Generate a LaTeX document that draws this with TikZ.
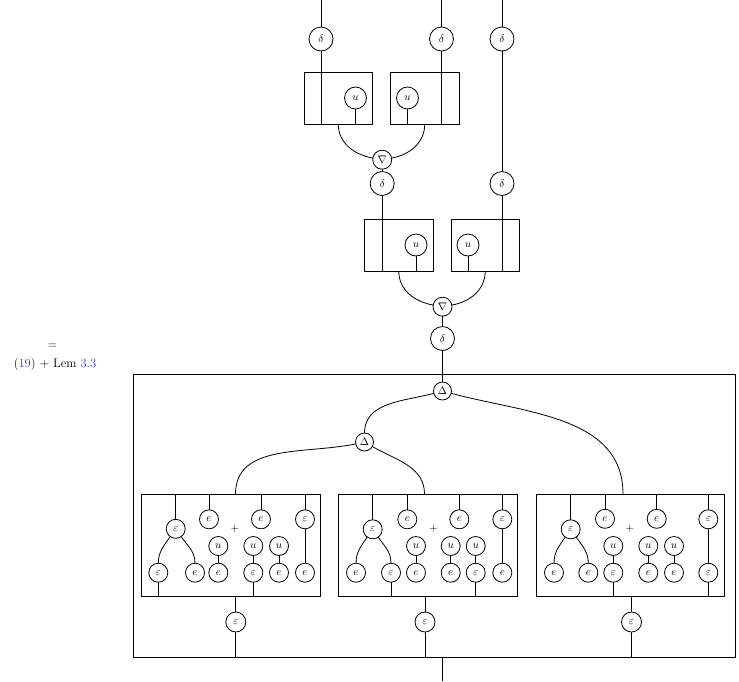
\documentclass[tikz,border=0pt]{standalone}
\usepackage{xcolor}
\definecolor{linkblue}{RGB}{51,51,230}
\begin{document}
\begin{tikzpicture}[x=1pt,y=-1pt, line width=0.8pt,
  lab/.style={font=\fontsize{10.5}{12}\selectfont},
  cn/.style={circle,draw,inner sep=0pt,outer sep=0pt,lab},
  bigc/.style={cn,minimum size=24pt},
  uc/.style={cn,minimum size=22pt},
  opc/.style={cn,minimum size=19pt},
  sm/.style={cn,minimum size=19pt},
  ebot/.style={cn,minimum size=20pt},
  sbox/.style={draw,rectangle,inner sep=0pt,outer sep=0pt,line width=0.9pt},
  topbox/.style={sbox,minimum width=68.5pt,minimum height=52pt},
  inbox/.style={sbox,minimum height=102pt},
  txt/.style={font=\fontsize{12.5}{15}\selectfont}
]
\useasboundingbox (0,0) rectangle (739,681);

% ---------- left label ----------
\node[txt] (eq) at (52.5,346) {$=$};
\node[txt] (ref) at (55,364) {(\textcolor{linkblue}{19}) + Lem \textcolor{linkblue}{3.3}};

% ---------- top section ----------
\coordinate (t1) at (321,0);
\coordinate (t2) at (441.5,0);
\coordinate (t3) at (502,0);
\node[bigc] (d1) at (321,39) {$\delta$};
\node[bigc] (d2) at (441.5,39) {$\delta$};
\node[bigc] (d3) at (502,39) {$\delta$};
\node[topbox] (box1) at (338.25,98) {};
\node[topbox] (box2) at (424.75,98) {};
\node[uc] (u1) at (355.5,98) {$u$};
\node[uc] (u2) at (407.5,98) {$u$};
\node[opc] (n1) at (382.2,159.7) {$\nabla$};
\node[bigc] (d4) at (382.2,183.5) {$\delta$};
\node[bigc] (d5) at (502,183.5) {$\delta$};
\draw (t1) -- (d1);
\draw (t2) -- (d2);
\draw (t3) -- (d3);
\draw (d1) -- (d1 |- box1.south);
\draw (d2) -- (d2 |- box2.south);
\draw (u1) -- (u1 |- box1.south);
\draw (u2) -- (u2 |- box2.south);
\draw (box1.south) to[out=-90,in=170] (n1);
\draw (box2.south) to[out=-90,in=10] (n1);
\draw (n1) -- (d4);
\draw (d3) -- (d5);

% ---------- middle section ----------
\node[topbox] (box3) at (398.75,245) {};
\node[topbox] (box4) at (485.25,245) {};
\node[uc] (u3) at (416,245) {$u$};
\node[uc] (u4) at (468,245) {$u$};
\node[opc] (n2) at (442.5,306.7) {$\nabla$};
\node[bigc] (d6) at (442.5,338.5) {$\delta$};
\draw (d4) -- (d4 |- box3.south);
\draw (d5) -- (d5 |- box4.south);
\draw (u3) -- (u3 |- box3.south);
\draw (u4) -- (u4 |- box4.south);
\draw (box3.south) to[out=-90,in=170] (n2);
\draw (box4.south) to[out=-90,in=10] (n2);
\draw (n2) -- (d6);

% ---------- big box ----------
\node[sbox,minimum width=602pt,minimum height=283pt] (bigbox) at (434,515.5) {};
\node[opc,minimum size=18pt] (D1) at (442.5,391) {$\Delta$};
\node[opc,minimum size=18pt] (D2) at (364.5,442) {$\Delta$};
\draw (d6) -- (D1);

\node[inbox,minimum width=179.5pt] (boxA) at (230.75,545) {};
\node[inbox,minimum width=178.5pt] (boxB) at (427.75,545) {};
\node[inbox,minimum width=188pt] (boxC) at (630.5,545) {};

\coordinate (tA) at (235.5,494);
\coordinate (tB) at (424.5,494);
\coordinate (tC) at (623,494);
\draw (D1) to[out=195,in=90] (D2);
\draw (D1) to[out=-15,in=90] (tC);
\draw (D2) to[out=192,in=90] (tA);
\draw (D2) to[out=-30,in=90] (tB);

% box A
\node[sm] (A1) at (175.7,528.8) {$\varepsilon$};
\node[sm] (A2) at (209,519.3) {$e$};
\node[lab] (Ap) at (235,528.3) {$+$};
\node[sm] (A3) at (261,519.3) {$e$};
\node[sm] (A4) at (305,519.3) {$\varepsilon$};
\node[sm] (A5) at (218.3,546) {$u$};
\node[sm] (A6) at (253.3,546) {$u$};
\node[sm] (A7) at (279,546) {$u$};
\node[sm] (A8) at (158.3,572.7) {$\varepsilon$};
\node[sm] (A9) at (195,572.7) {$e$};
\node[sm] (A10) at (218.3,572.7) {$e$};
\node[sm] (A11) at (253.3,572.7) {$\varepsilon$};
\node[sm] (A12) at (279,572.7) {$e$};
\node[sm] (A13) at (305,572.7) {$e$};
\foreach \n in {A1,A2,A3,A4} \draw (\n) -- (\n |- boxA.north);
\draw (A1) to[out=-125,in=90] (A8);
\draw (A1) to[out=-55,in=90] (A9);
\draw (A5) -- (A10);
\draw (A6) -- (A11);
\draw (A7) -- (A12);
\draw (A4) -- (A13);
\draw (A8) -- (A8 |- boxA.south);
\draw (A11) -- (A11 |- boxA.south);

% box B
\node[sm] (B1) at (372.7,529.3) {$\varepsilon$};
\node[sm] (B2) at (407.3,519.3) {$e$};
\node[lab] (Bp) at (433.3,528.3) {$+$};
\node[sm] (B3) at (459.3,519.3) {$e$};
\node[sm] (B4) at (502.3,519.3) {$\varepsilon$};
\node[sm] (B5) at (416,546) {$u$};
\node[sm] (B6) at (450.7,546) {$u$};
\node[sm] (B7) at (475.7,546) {$u$};
\node[sm] (B8) at (356,572.7) {$e$};
\node[sm] (B9) at (391,572.7) {$\varepsilon$};
\node[sm] (B10) at (416,572.7) {$e$};
\node[sm] (B11) at (450.7,572.7) {$e$};
\node[sm] (B12) at (475.7,572.7) {$\varepsilon$};
\node[sm] (B13) at (502.3,572.7) {$e$};
\foreach \n in {B1,B2,B3,B4} \draw (\n) -- (\n |- boxB.north);
\draw (B1) to[out=-125,in=90] (B8);
\draw (B1) to[out=-55,in=90] (B9);
\draw (B5) -- (B10);
\draw (B6) -- (B11);
\draw (B7) -- (B12);
\draw (B4) -- (B13);
\draw (B9) -- (B9 |- boxB.south);
\draw (B12) -- (B12 |- boxB.south);

% box C
\node[sm] (C1) at (570.7,529.3) {$\varepsilon$};
\node[sm] (C2) at (605,518.8) {$e$};
\node[lab] (Cp) at (630,528.3) {$+$};
\node[sm] (C3) at (656.7,518.8) {$e$};
\node[sm] (C4) at (708.3,519.3) {$\varepsilon$};
\node[sm] (C5) at (613.3,546) {$u$};
\node[sm] (C6) at (648.3,546) {$u$};
\node[sm] (C7) at (674,546) {$u$};
\node[sm] (C8) at (554,572.7) {$e$};
\node[sm] (C9) at (588.3,572.7) {$e$};
\node[sm] (C10) at (613.3,572.7) {$\varepsilon$};
\node[sm] (C11) at (648.3,572.7) {$e$};
\node[sm] (C12) at (674,572.7) {$e$};
\node[sm] (C13) at (708.3,572.7) {$\varepsilon$};
\foreach \n in {C1,C2,C3,C4} \draw (\n) -- (\n |- boxC.north);
\draw (C1) to[out=-125,in=90] (C8);
\draw (C1) to[out=-55,in=90] (C9);
\draw (C5) -- (C10);
\draw (C6) -- (C11);
\draw (C7) -- (C12);
\draw (C4) -- (C13);
\draw (C10) -- (C10 |- boxC.south);
\draw (C13) -- (C13 |- boxC.south);

% bottom epsilons
\node[ebot] (eA) at (235.8,622) {$\varepsilon$};
\node[ebot] (eB) at (425,622) {$\varepsilon$};
\node[ebot] (eC) at (631.5,622) {$\varepsilon$};
\draw (eA) -- (eA |- boxA.south);
\draw (eB) -- (eB |- boxB.south);
\draw (eC) -- (eC |- boxC.south);
\draw (eA) -- (eA |- bigbox.south);
\draw (eB) -- (eB |- bigbox.south);
\draw (eC) -- (eC |- bigbox.south);

\coordinate (out) at (442.5,681);
\draw (out |- bigbox.south) -- (out);
\end{tikzpicture}
\end{document}
